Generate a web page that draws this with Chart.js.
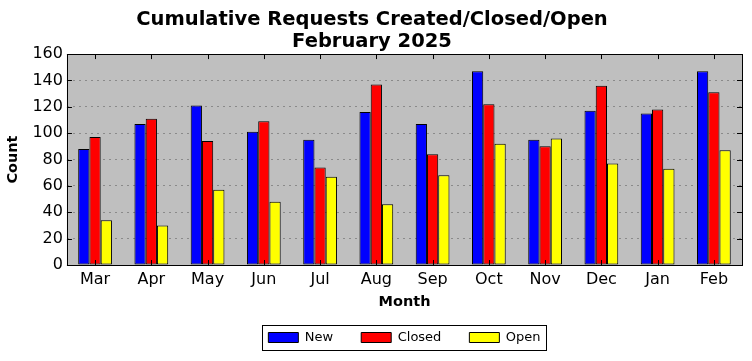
<!DOCTYPE html>
<html lang="en">
<head>
<meta charset="UTF-8">
<title>Cumulative Requests Created/Closed/Open</title>
<script src="https://cdn.jsdelivr.net/npm/chart.js"></script>
<style>
  body { margin: 0; background: #fff; }
  #wrap { width: 752px; height: 361px; }
</style>
</head>
<body>
<div id="wrap"><canvas id="chart" width="752" height="361"></canvas></div>
<script>
const months = ['Mar', 'Apr', 'May', 'Jun', 'Jul', 'Aug', 'Sep', 'Oct', 'Nov', 'Dec', 'Jan', 'Feb'];
const newCounts = [88, 107, 121, 101, 95, 116, 107, 147, 95, 117, 115, 147];
const closedCounts = [97, 111, 94, 109, 74, 137, 84, 122, 90, 136, 118, 131];
const openCounts = [34, 30, 57, 48, 67, 46, 68, 92, 96, 77, 73, 87];

const FONT = "'DejaVu Sans', sans-serif";

// plot frame, grey background, inward ticks and the legend box
const frame = {
  id: 'frame',
  beforeDraw(chart) {
    const { ctx, chartArea: a } = chart;
    ctx.save();
    ctx.fillStyle = '#bfbfbf';
    ctx.fillRect(a.left, a.top, a.right - a.left, a.bottom - a.top);
    ctx.restore();
  },
  afterDatasetsDraw(chart) {
    const { ctx, chartArea: a, scales } = chart;
    ctx.save();
    ctx.strokeStyle = '#000';
    ctx.lineWidth = 1;
    ctx.beginPath();
    scales.y.ticks.forEach((t, i) => {
      const y = Math.round(scales.y.getPixelForTick(i)) + 0.5;
      ctx.moveTo(a.left, y); ctx.lineTo(a.left + 5, y);
      ctx.moveTo(a.right, y); ctx.lineTo(a.right - 5, y);
    });
    scales.x.ticks.forEach((t, i) => {
      const x = Math.round(scales.x.getPixelForTick(i)) + 0.5;
      ctx.moveTo(x, a.top); ctx.lineTo(x, a.top + 5);
      ctx.moveTo(x, a.bottom); ctx.lineTo(x, a.bottom - 5);
    });
    ctx.stroke();
    ctx.strokeRect(Math.round(a.left) + 0.5, Math.round(a.top) + 0.5,
      Math.round(a.right - a.left), Math.round(a.bottom - a.top));
    ctx.restore();
  },
  afterDraw(chart) {
    const boxes = chart.legend.legendHitBoxes;
    if (!boxes || !boxes.length) return;
    const first = boxes[0], last = boxes[boxes.length - 1];
    const { ctx } = chart;
    ctx.save();
    ctx.strokeStyle = '#000';
    ctx.lineWidth = 1;
    const x0 = Math.round(first.left - 6) + 0.5;
    const x1 = Math.round(last.left + last.width + 5) + 0.5;
    const y0 = Math.round(first.top - 6) + 0.5;
    const y1 = Math.round(first.top + first.height + 6) + 0.5;
    ctx.strokeRect(x0, y0, x1 - x0, y1 - y0);
    ctx.restore();
  }
};

new Chart(document.getElementById('chart'), {
  type: 'bar',
  data: {
    labels: months,
    datasets: [
      { label: 'New', data: newCounts, backgroundColor: '#0000ff' },
      { label: 'Closed', data: closedCounts, backgroundColor: '#ff0000' },
      { label: 'Open', data: openCounts, backgroundColor: '#ffff00' }
    ]
  },
  options: {
    responsive: false,
    animation: false,
    layout: { padding: { left: 2, right: 10, top: 0, bottom: 7 } },
    datasets: {
      bar: {
        borderColor: '#000',
        borderWidth: 1,
        borderSkipped: false,
        categoryPercentage: 0.6,
        barPercentage: 1.0
      }
    },
    plugins: {
      title: {
        display: true,
        text: ['Cumulative Requests Created/Closed/Open', 'February 2025'],
        color: '#000',
        font: { family: FONT, size: 19.5, weight: 'bold', lineHeight: 1.13 },
        padding: { top: 9, bottom: 1 }
      },
      legend: {
        position: 'bottom',
        fullSize: false,
        labels: {
          color: '#000',
          boxWidth: 30,
          boxHeight: 10,
          padding: 28,
          font: { family: FONT, size: 13 }
        }
      },
      tooltip: { enabled: false }
    },
    scales: {
      x: {
        grid: { display: false, drawTicks: false },
        border: { display: false },
        ticks: { color: '#000', padding: 5, font: { family: FONT, size: 16 } },
        title: {
          display: true, text: 'Month', color: '#000',
          font: { family: FONT, size: 14.5, weight: 'bold' },
          padding: { top: 0, bottom: -8 }
        },
        afterFit(scale) { scale.height = 38; }
      },
      y: {
        min: 0,
        max: 160,
        ticks: { stepSize: 20, color: '#000', padding: 4, font: { family: FONT, size: 16 } },
        grid: { color: '#8a8a8a', lineWidth: 1, drawTicks: false },
        border: { display: false, dash: [2, 4] },
        title: {
          display: true, text: 'Count', color: '#000',
          font: { family: FONT, size: 14.5, weight: 'bold' },
          padding: { top: 3, bottom: 6 }
        }
      }
    }
  },
  plugins: [frame]
});
</script>
</body>
</html>
